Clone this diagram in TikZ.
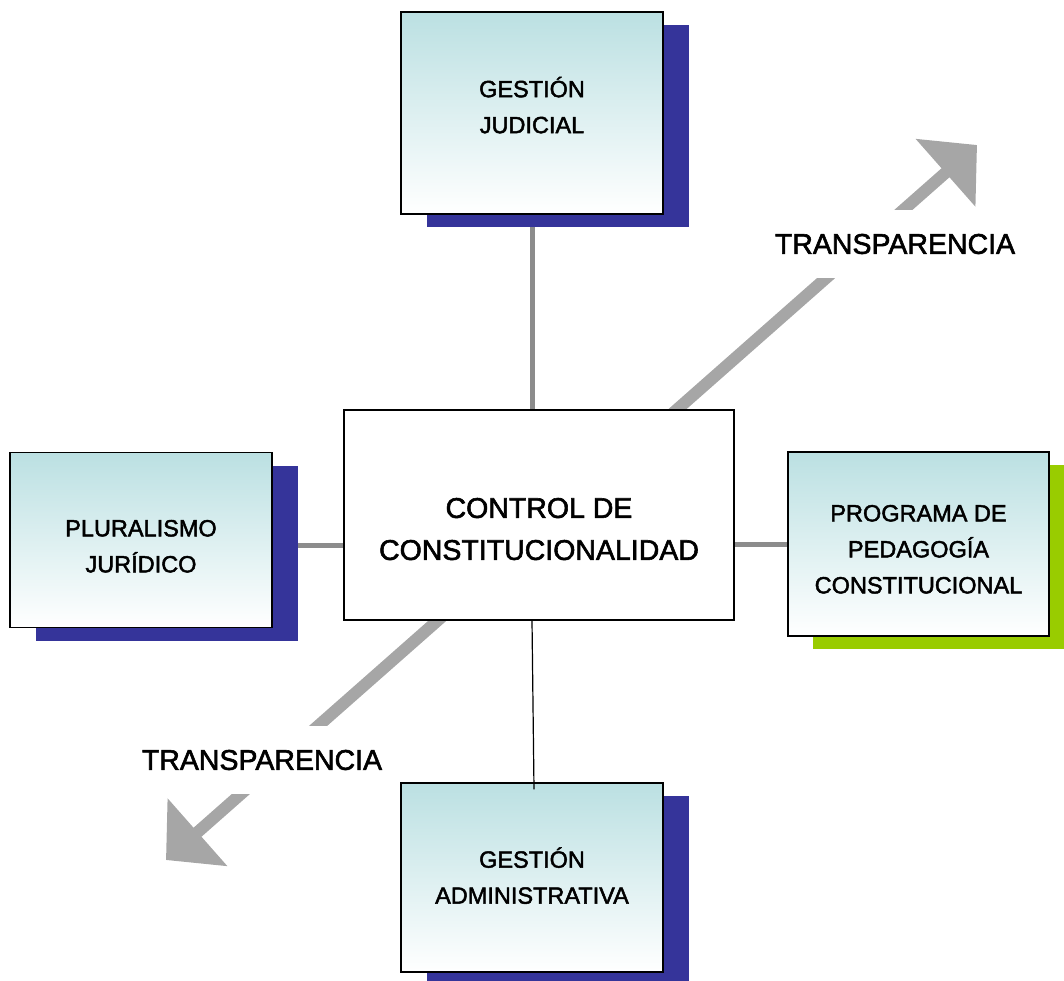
\documentclass[tikz,border=0pt]{standalone}
\usepackage{fontspec}
\setmainfont{Liberation Sans}[FakeBold=2]
\usetikzlibrary{arrows.meta,shadows,backgrounds}
\definecolor{boxtop}{RGB}{187,224,226}
\definecolor{shadeblue}{RGB}{53,52,154}
\definecolor{shadegreen}{RGB}{153,204,0}
\definecolor{linkgray}{RGB}{140,140,140}
\definecolor{arrowgray}{RGB}{166,166,166}
\newcommand\dn[1]{\rule{0pt}{#1}}
\newcommand\up[1]{\rule[-#1]{0pt}{0pt}}
\tikzset{
  box/.style={draw=black, line width=1.2pt, top color=boxtop, bottom color=white, align=center, font=\fontsize{23.5}{36}\selectfont, minimum width=262pt, inner sep=0pt},
  bluebox/.style={box, drop shadow={shadow xshift=26pt, shadow yshift=-13pt, fill=shadeblue, opacity=1}},
  greenbox/.style={box, drop shadow={shadow xshift=25pt, shadow yshift=-13pt, fill=shadegreen, opacity=1}},
  core/.style={draw=black, line width=1.2pt, fill=white, align=center, font=\fontsize{28.5}{42}\selectfont, minimum width=390pt, minimum height=210pt},
  link/.style={draw=linkgray, line width=5pt},
  wire/.style={draw=black, line width=1.2pt},
  trans/.style={draw=arrowgray, line width=12pt, {Triangle[width=88pt,length=42pt]}-{Triangle[width=88pt,length=42pt]}},
  translab/.style={fill=white, font=\fontsize{28.5}{34}\selectfont, inner xsep=2pt, inner ysep=24pt},
}
\begin{document}
\begin{tikzpicture}[x=1pt,y=-1pt]
  \useasboundingbox (0,0) rectangle (1064,980);
  \coordinate (tipLL) at (166,860);
  \coordinate (tipUR) at (977,145);

  \node[core] (control) at (539,515) {\dn{48pt}CONTROL DE\\CONSTITUCIONALIDAD};
  \node[bluebox, minimum height=202pt] (judicial) at (532,113) {GESTIÓN\\JUDICIAL\up{16pt}};
  \node[bluebox, minimum height=175pt] (plural) at (141,540) {\dn{29pt}PLURALISMO\\JURÍDICO};
  \node[greenbox, minimum height=184pt, minimum width=261pt] (pedago) at (918.5,544) {\dn{27pt}PROGRAMA DE\\PEDAGOGÍA\\CONSTITUCIONAL};
  \node[bluebox, minimum height=189pt] (admin) at (532,877.5) {GESTIÓN\\ADMINISTRATIVA\up{4pt}};

  \node[translab] (labUR) at (895,244) {TRANSPARENCIA};
  \node[translab] (labLL) at (262,760) {TRANSPARENCIA};

  \begin{scope}[on background layer]
    \draw[trans] (tipLL) -- (tipUR);
    \draw[link] (judicial.south) -- (judicial.south |- control.north);
    \draw[link] ([yshift=-5pt]plural.east) -- ([yshift=-5pt]plural.east -| control.west);
    \draw[link] (pedago.west) -- (pedago.west -| control.east);
  \end{scope}
  \draw[wire] (admin.north |- control.south) -- ([xshift=2pt,yshift=-7pt]admin.north);
\end{tikzpicture}
\end{document}
